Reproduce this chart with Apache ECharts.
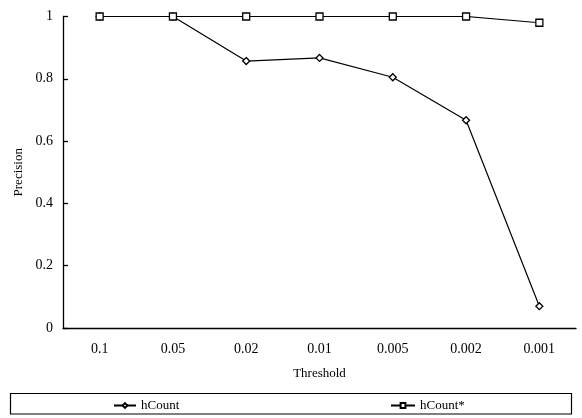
<!DOCTYPE html>
<html><head><meta charset="utf-8">
<script src="https://cdn.jsdelivr.net/npm/echarts@6/dist/echarts.min.js"></script>
<style>html,body{margin:0;padding:0;background:#fff}#c{width:582px;height:418px}</style>
</head><body><div id="c"></div>
<script>
const categories = ['0.1','0.05','0.02','0.01','0.005','0.002','0.001'];
const hCount = [1, 1, 0.857, 0.867, 0.805, 0.667, 0.07];
const hCountStar = [1, 1, 1, 1, 1, 1, 0.98];
const yTicks = [0, 0.2, 0.4, 0.6, 0.8, 1];
const font = 'Liberation Serif';
const chart = echarts.init(document.getElementById('c'), null, {renderer:'canvas'});
chart.setOption({
  animation:false,
  backgroundColor:'#fff',
  textStyle:{fontFamily:font},
  grid:{left:63,right:6,top:16.5,bottom:90},
  xAxis:{type:'category',data:categories,boundaryGap:true,
    name:'Threshold',nameLocation:'middle',nameGap:39,
    nameTextStyle:{fontFamily:font,fontSize:13,color:'#000'},
    axisLine:{lineStyle:{color:'#000',width:1.3}},
    axisTick:{inside:true,length:5,lineStyle:{color:'#000',width:1.3}},
    axisLabel:{margin:14,fontFamily:font,fontSize:14,color:'#000'},
    splitLine:{show:false}},
  yAxis:{type:'value',min:0,max:1,interval:0.2,
    name:'Precision',nameLocation:'middle',nameGap:35,nameRotate:90,
    nameTextStyle:{fontFamily:font,fontSize:13,color:'#000'},
    axisLine:{show:true,lineStyle:{color:'#000',width:1.3}},
    axisTick:{show:true,inside:true,length:5,lineStyle:{color:'#000',width:1.3}},
    axisLabel:{margin:10,fontFamily:font,fontSize:14,color:'#000',
      formatter:v=>yTicks.includes(Math.round(v*10)/10)?String(Math.round(v*10)/10):''},
    splitLine:{show:false}},
  graphic:[{type:'rect',shape:{x:10.5,y:393.5,width:561,height:20.5},
    style:{fill:'#fff',stroke:'#000',lineWidth:1.2},z:0}],
  legend:[
    {data:['hCount'],left:108,top:394,itemWidth:22,itemHeight:6,itemGap:5,
     textStyle:{fontFamily:font,fontSize:13,color:'#000'},z:10},
    {data:['hCount*'],left:385,top:394,itemWidth:24,itemHeight:6,itemGap:5,
     textStyle:{fontFamily:font,fontSize:13,color:'#000'},z:10}
  ],
  series:[
    {name:'hCount',type:'line',data:hCount,symbol:'diamond',symbolSize:7,
     lineStyle:{color:'#000',width:1.2},itemStyle:{color:'#fff',borderColor:'#000',borderWidth:1.3}},
    {name:'hCount*',type:'line',data:hCountStar,symbol:'rect',symbolSize:7,
     lineStyle:{color:'#000',width:1.2},itemStyle:{color:'#fff',borderColor:'#000',borderWidth:1.3}}
  ]
});
</script></body></html>
